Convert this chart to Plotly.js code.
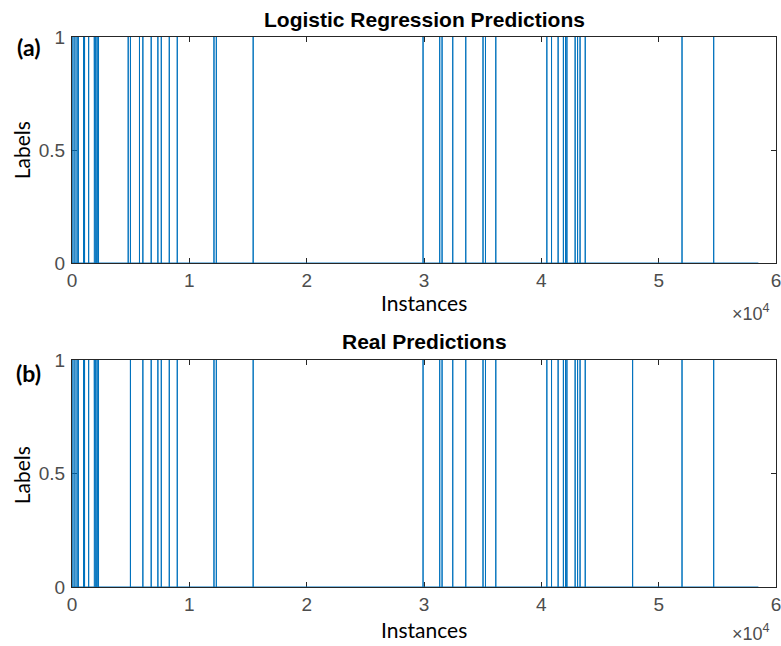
<!DOCTYPE html>
<html>
<head>
<meta charset="utf-8">
<script src="https://cdn.plot.ly/plotly-3.0.1.min.js"></script>
<style>html,body{margin:0;padding:0;background:#fff;}#chart{width:781px;height:646px;}</style>
</head>
<body>
<div id="chart"></div>
<script>
// Instance indices predicted as label 1 (logistic regression)
const predictedPositives = [80, 250, 430, 540, 980, 1070, 1420, 1900, 1960, 2020, 2080, 2140, 2200, 2260,
  4790, 4980, 5750, 6040, 6750, 7320, 7610, 8290, 8970, 12100, 12300, 15440,
  29920, 31340, 31540, 32450, 33560, 35030, 35240, 36120,
  40470, 40870, 41430, 41880, 42060, 42120, 42180, 42880, 43090, 43300, 43740,
  51990, 54690];
// Instance indices with real label 1
const realPositives = [80, 250, 430, 540, 980, 1070, 1420, 1900, 1960, 2020, 2080, 2140, 2200, 2260,
  4980, 6040, 6750, 7320, 7610, 8290, 8970, 12100, 12300, 15440,
  29920, 31340, 31540, 32450, 33560, 35030, 35240, 36120,
  40470, 40870, 41430, 41880, 42060, 42120, 42180, 42880, 43090, 43300, 43740,
  47780, 51990, 54690];
const instanceCount = 58500;
const xTickVals = [0, 10000, 20000, 30000, 40000, 50000, 60000];
const xTickText = ['0', '1', '2', '3', '4', '5', '6'];
const yTickVals = [0, 0.5, 1];
const yTickText = ['0', '0.5', '1'];

function labelSeries(pos) {
  const x = [1], y = [0];
  pos.forEach(p => { x.push(p, p, p); y.push(0, 1, 0); });
  x.push(instanceCount); y.push(0);
  return {x, y};
}

const blue = '#0072BD';
const sA = labelSeries(predictedPositives);
const sB = labelSeries(realPositives);
const traces = [
  {x: sA.x, y: sA.y, type: 'scatter', mode: 'lines', line: {color: blue, width: 1}, xaxis: 'x', yaxis: 'y', cliponaxis: false, hoverinfo: 'skip'},
  {x: sB.x, y: sB.y, type: 'scatter', mode: 'lines', line: {color: blue, width: 1}, xaxis: 'x2', yaxis: 'y2', cliponaxis: false, hoverinfo: 'skip'}
];

const tickFont = {family: 'Liberation Sans, Arial, sans-serif', size: 19, color: '#4d4d4d'};
function xAxis(anchor) {
  return {anchor: anchor, range: [0, 60000], tickvals: xTickVals, ticktext: xTickText,
    ticks: 'inside', ticklen: 5, tickcolor: '#262626', showline: true, linecolor: '#262626', linewidth: 1,
    mirror: 'ticks', showgrid: false, zeroline: false, tickfont: tickFont, layer: 'below traces', fixedrange: true,
    ticklabelstandoff: 0, ticklabeloverflow: 'allow'};
}
function yAxis(anchor, domain) {
  return {anchor: anchor, domain: domain, range: [0, 1], tickvals: yTickVals, ticktext: yTickText,
    ticks: 'inside', ticklen: 5, tickcolor: '#262626', showline: true, linecolor: '#262626', linewidth: 1,
    mirror: 'ticks', showgrid: false, zeroline: false, tickfont: tickFont, layer: 'below traces', fixedrange: true,
    ticklabelstandoff: 2, ticklabeloverflow: 'allow'};
}

const titleFont = {family: 'Liberation Sans, Arial, sans-serif', size: 21, color: '#000', weight: 'bold'};
const labFont = {family: 'Lato, sans-serif', size: 21, color: '#000'};
const tagFont = {family: 'Lato, sans-serif', size: 23, color: '#000', weight: 'bold'};
const expFont = {family: 'Liberation Sans, Arial, sans-serif', size: 18, color: '#4d4d4d'};

const ann = [
  {text: '<b>Logistic Regression Predictions</b>', x: 0.5, y: 1.031, xref: 'paper', yref: 'paper', showarrow: false, font: titleFont, xanchor: 'center', yanchor: 'middle'},
  {text: '<b>Real Predictions</b>', x: 0.5, y: 0.4455, xref: 'paper', yref: 'paper', showarrow: false, font: titleFont, xanchor: 'center', yanchor: 'middle'},
  {text: 'Instances', x: 0.5, y: 0.517, xref: 'paper', yref: 'paper', showarrow: false, font: labFont, xanchor: 'center', yanchor: 'middle'},
  {text: 'Instances', x: 0.5, y: -0.078, xref: 'paper', yref: 'paper', showarrow: false, font: labFont, xanchor: 'center', yanchor: 'middle'},
  {text: '×10<sup>4</sup>', x: 0.995, y: 0.5, xref: 'paper', yref: 'paper', showarrow: false, font: expFont, xanchor: 'right', yanchor: 'middle'},
  {text: '×10<sup>4</sup>', x: 0.995, y: -0.082, xref: 'paper', yref: 'paper', showarrow: false, font: expFont, xanchor: 'right', yanchor: 'middle'},
  {text: 'Labels', x: -0.072, y: 0.7945, xref: 'paper', yref: 'paper', showarrow: false, font: labFont, textangle: -90, xanchor: 'center', yanchor: 'middle'},
  {text: 'Labels', x: -0.072, y: 0.2036, xref: 'paper', yref: 'paper', showarrow: false, font: labFont, textangle: -90, xanchor: 'center', yanchor: 'middle'},
  {text: '(a)', x: -0.0625, y: 0.982, xref: 'paper', yref: 'paper', showarrow: false, font: tagFont, xanchor: 'center', yanchor: 'middle'},
  {text: '(b)', x: -0.0625, y: 0.389, xref: 'paper', yref: 'paper', showarrow: false, font: tagFont, xanchor: 'center', yanchor: 'middle'}
];

const layout = {
  width: 781, height: 646,
  margin: {l: 72, r: 5, t: 37, b: 59},
  paper_bgcolor: '#fff', plot_bgcolor: '#fff',
  showlegend: false,
  xaxis: xAxis('y'),
  yaxis: yAxis('x', [0.589, 1]),
  xaxis2: xAxis('y2'),
  yaxis2: yAxis('x2', [0, 0.4127]),
  annotations: ann
};

Plotly.newPlot('chart', traces, layout, {staticPlot: true, displayModeBar: false});
</script>
</body>
</html>
